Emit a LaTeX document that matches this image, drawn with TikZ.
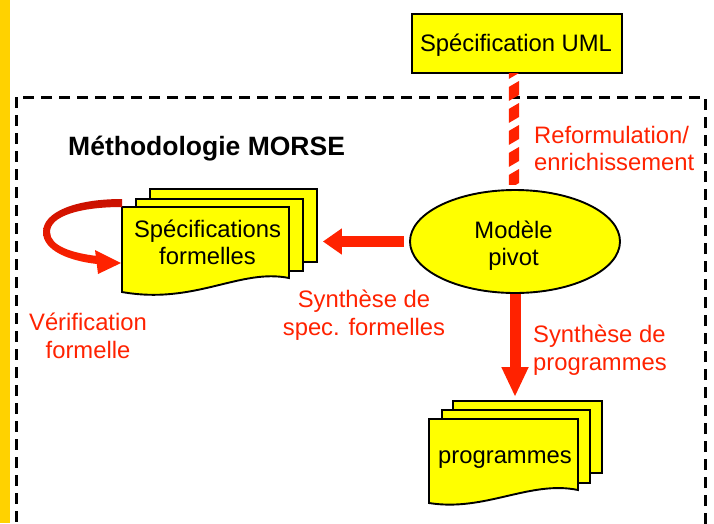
\documentclass[tikz,border=0pt]{standalone}
\usepackage{fontspec}
\setmainfont{Liberation Sans}
\usetikzlibrary{arrows.meta,shapes.geometric}
\definecolor{docyellow}{HTML}{FFFF00}
\definecolor{arrred}{HTML}{FF2200}
\definecolor{loopdark}{HTML}{C81000}
\definecolor{stripgold}{HTML}{FFD200}
\begin{document}
\begin{tikzpicture}[x=1pt,y=-1pt,
  lbl/.style={inner sep=0pt, font=\fontsize{23.8}{28}\selectfont},
  redlbl/.style={lbl, text=arrred},
  page/.style={draw=black, line width=1.9pt, fill=docyellow, inner sep=0pt},
  blockarrow/.style={draw=arrred, line width=11pt}
]
\useasboundingbox (0,0) rectangle (714,523);
\clip (0,0) rectangle (714,523);
\fill[white] (0,0) rectangle (714,523);
\fill[stripgold] (0,0) rectangle (10,523);

% dashed frame
\draw[line width=3pt, dash pattern=on 11pt off 7pt] (16,97) rectangle (705,560);

% UML box
\node[page, anchor=north west, minimum width=210pt, minimum height=59pt] (uml) at (411,13) {};
\node[lbl, anchor=base] (umltext) at (516,51) {Spécification UML};

% hatched connector
\begin{scope}
  \clip ([xshift=-8pt]uml.south) rectangle (521,184);
  \foreach \y in {59,81,...,191} {
    \fill[arrred] (507,\y+7) -- (519,\y) -- (519,\y+14) -- (507,\y+21) -- cycle;
  }
\end{scope}

% pivot ellipse
\node[ellipse, draw=black, line width=1.9pt, fill=docyellow, minimum width=210pt, minimum height=103pt, inner sep=0pt] (pivot) at (515,241.5) {};
\node[lbl, anchor=base] (piv1) at (513.5,238) {Modèle};
\node[lbl, anchor=base] (piv2) at (513.5,265) {pivot};

% specifications stack
\node[page, anchor=north west, minimum width=167pt, minimum height=73pt] (s3) at (149,188) {};
\node[page, anchor=north west, minimum width=167pt, minimum height=72pt] (s2) at (135,198) {};
\draw[page] (122,207) -- (289,207) -- (289,278) .. controls (240,268) and (195,305) .. (122,292) -- cycle;
\coordinate (s1) at (205,245);
\node[lbl, anchor=base] (spec1) at (207.5,237) {Spécifications};
\node[lbl, anchor=base] (spec2) at (207.5,264) {formelles};

% programmes stack
\node[page, anchor=north west, minimum width=149pt, minimum height=72pt] (p3) at (452,400) {};
\node[page, anchor=north west, minimum width=148pt, minimum height=73pt] (p2) at (441,409) {};
\draw[page] (429,419) -- (578,419) -- (578,490) .. controls (530,480) and (485,512) .. (429,503) -- cycle;
\node[lbl, anchor=base] (progtext) at (505,463) {programmes};

% block arrows
\draw[blockarrow, -{Triangle[width=25pt,length=19pt]}] ([xshift=-5pt]pivot.west) -- ([xshift=5pt]s3.east |- pivot.west);
\draw[blockarrow, -{Triangle[width=25pt,length=30pt]}] (pivot.south) -- ([yshift=3pt]pivot.south |- p3.north);

% loop arrow (vérification)
\shade[top color=loopdark, bottom color=arrred]
  (122,199) .. controls (75,199) and (43,212) .. (43,232)
  .. controls (43,251) and (70,261) .. (97,264)
  -- (97,256)
  .. controls (72,253) and (50,246) .. (50,232)
  .. controls (50,216) and (80,207) .. (122,207) -- cycle;
\fill[arrred] (95,250) -- (121,263) -- (98,274) -- cycle;

% labels
\node[lbl, anchor=base west, font=\fontsize{26.5}{30}\selectfont\bfseries] (morse) at (68,155) {Méthodologie MORSE};
\node[redlbl, anchor=base west] (ref1) at (534,143) {Reformulation/};
\node[redlbl, anchor=base west] (ref2) at (534,170) {enrichissement};
\node[redlbl, anchor=base] (ssf1) at (364,307) {Synthèse de};
\node[redlbl, anchor=base] (ssf2) at (364,335) {spec. formelles};
\node[redlbl, anchor=base] (ver1) at (88,330) {Vérification};
\node[redlbl, anchor=base] (ver2) at (88,358) {formelle};
\node[redlbl, anchor=base west] (sp1) at (533,342) {Synthèse de};
\node[redlbl, anchor=base west] (sp2) at (533,370) {programmes};
\end{tikzpicture}
\end{document}
